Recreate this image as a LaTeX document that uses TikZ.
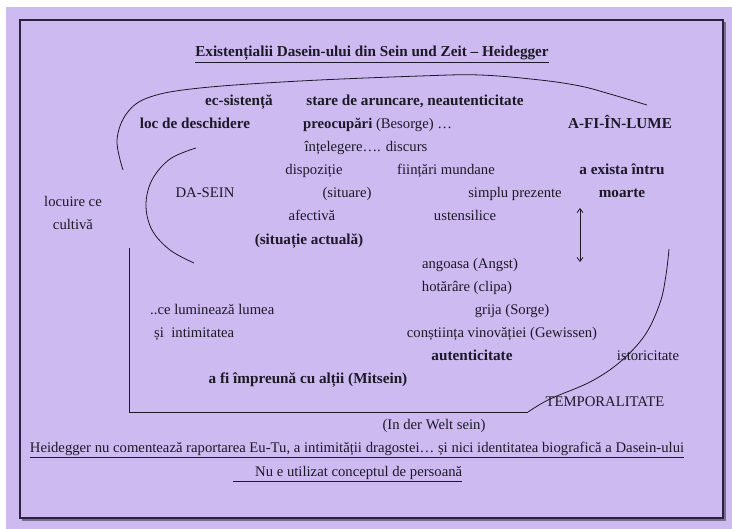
\documentclass[tikz,border=0pt]{standalone}
\usepackage{fontspec}
\setmainfont{Liberation Serif}
\usetikzlibrary{arrows.meta}
\definecolor{lav}{RGB}{205,186,240}
\definecolor{framec}{RGB}{40,34,64}
\definecolor{shadowc}{RGB}{120,110,140}
\definecolor{ink}{RGB}{28,26,36}
\begin{document}
\begin{tikzpicture}[x=1pt,y=-1pt,
  txt/.style={inner sep=0pt, anchor=base, text=ink, font=\fontsize{14.7}{17}\selectfont},
  bt/.style={txt, font=\fontsize{15.2}{17}\selectfont\bfseries},
  curve/.style={draw=ink, line width=0.8pt}]
\useasboundingbox (0,0) rectangle (732,529);
\fill[white] (0,0) rectangle (732,529);
\fill[lav] (6,7) rectangle (732,529);
% frame with shadow
\draw[shadowc, line width=1.4pt] (725,22) -- (725,520) -- (22,520);
\draw[framec, line width=1.1pt] (20,20) rectangle (723,518);
% texts
\node[bt] (title) at (372,57) {\underline{Existențialii Dasein-ului din Sein und Zeit – Heidegger}};
\node[bt] (ecs) at (239,106) {ec-sistență};
\node[bt] (stare) at (415,106) {stare de aruncare, neautenticitate};
\node[bt] (loc) at (195,129) {loc de deschidere};
\node[txt, anchor=base west] (preoc) at (303,129) {\textbf{preocupări} (Besorge) …};
\node[bt] (afi) at (620,129) {A-FI-ÎN-LUME};
\node[txt] (intel) at (366,152) {înțelegere…. discurs};
\node[txt] (disp) at (314,175) {dispoziție};
\node[txt] (fiint) at (446,175) {ființări mundane};
\node[bt] (aex) at (622,175) {a exista întru};
\node[txt] (dasein) at (205,198) {DA-SEIN};
\node[txt] (situare) at (347,198) {(situare)};
\node[txt] (simplu) at (515,198) {simplu prezente};
\node[bt] (moarte) at (622,198) {moarte};
\node[txt] (locuire) at (73,207) {locuire ce};
\node[txt] (cultiva) at (73,230) {cultivă};
\node[txt] (afect) at (312,221) {afectivă};
\node[txt] (usten) at (465,221) {ustensilice};
\node[bt] (situatie) at (309,245) {(situație actuală)};
\node[txt] (angoasa) at (470,269) {angoasa (Angst)};
\node[txt] (hotar) at (467,292) {hotărâre (clipa)};
\node[txt, anchor=base west] (lumin) at (150,315) {..ce luminează lumea};
\node[txt] (grija) at (512,315) {grija (Sorge)};
\node[txt, anchor=base west] (intim) at (154,338) {și\ \ intimitatea};
\node[txt] (constiinta) at (502,338) {conștiința vinovăției (Gewissen)};
\node[bt] (autent) at (472,361) {autenticitate};
\node[txt] (istoric) at (648,361) {istoricitate};
\node[bt] (mitsein) at (308,384) {a fi împreună cu alții (Mitsein)};
\node[txt] (tempor) at (605,407) {TEMPORALITATE};
\node[txt] (welt) at (434,430) {(In der Welt sein)};
\node[txt] (heid) at (357,453) {\underline{Heidegger nu comentează raportarea Eu-Tu, a intimității dragostei… și nici identitatea biografică a Dasein-ului}};
\node[txt, anchor=base west] (nue) at (233,477) {\underline{\hspace*{22pt}Nu e utilizat conceptul de persoană}};
% curves
\draw[curve] plot[smooth, tension=0.6] coordinates {(123,170) (117,140) (127,113) (150,97) (200,88) (300,81) (420,76) (480,75) (540,80) (580,86) (610,94) (647,105)};
\draw[curve] plot[smooth, tension=0.6] coordinates {(196,148) (170,159) (152,180) (146,205) (152,230) (170,250) (194,263)};
\draw[curve] (129,248) -- (129,412) -- (528,412);
\draw[curve] plot[smooth, tension=0.6] coordinates {(528,412) (550,399) (590,382) (620,362) (645,335) (660,303) (666,275) (669,249)};
\coordinate (arrT) at (580,208);
\coordinate (arrB) at (580,262);
\draw[curve, <->, >={Straight Barb[length=4pt,width=6pt]}] (arrT) -- (arrB);
\end{tikzpicture}
\end{document}
